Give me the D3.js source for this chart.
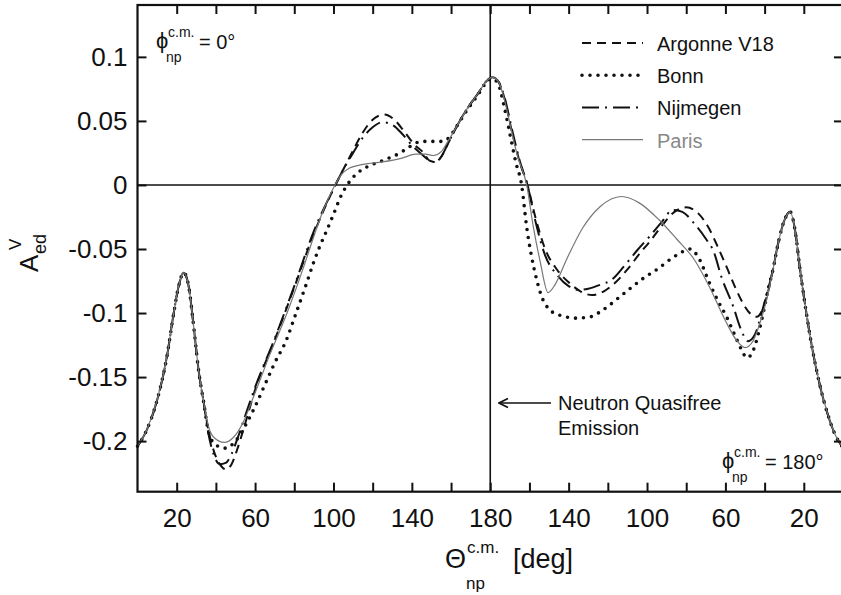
<!DOCTYPE html>
<html>
<head>
<meta charset="utf-8">
<script src="https://cdn.jsdelivr.net/npm/d3@7"></script>
<style>
  body { margin: 0; background: #fff; }
  svg { display: block; }
  text { font-family: "Liberation Sans", Arial, Helvetica, sans-serif; fill: #111; }
</style>
</head>
<body>
<svg width="841" height="595"></svg>
<script>
// x is the unfolded angle: 0..180 is theta at phi=0, 180..360 is (360 - theta) at phi=180
var yTicks = [0.1, 0.05, 0, -0.05, -0.1, -0.15, -0.2];
var xTicks = d3.range(20, 360, 20);
var xLabelTicks = [20, 60, 100, 140, 180, 220, 260, 300, 340];

var sharedLeft = [[0,-0.204],[4.8,-0.191],[10,-0.168],[15,-0.134],[18.5,-0.100],[21,-0.079],[23.6,-0.0685],
  [26.1,-0.079],[28.7,-0.111],[31.2,-0.145],[33.8,-0.170]];
var sharedRight = [[324,-0.068],[327,-0.045],[330,-0.028],[333,-0.021],[335.5,-0.035],[338,-0.065],[341,-0.097],
  [344,-0.125],[348,-0.155],[352,-0.178],[356,-0.195],[360,-0.205]];

var argonne = [[36.3,-0.192],[39,-0.208],[42,-0.218],[45,-0.222],[48,-0.218],[51,-0.206],[55,-0.186],[60,-0.160],
  [70,-0.121],[80,-0.080],[90,-0.038],[101,0],[105,0.012],[110,0.027],[115,0.041],[120,0.051],[126,0.055],
  [131,0.051],[136,0.042],[141,0.032],[146,0.025],[149,0.019],[152,0.018],[155,0.022],[158,0.031],[163,0.046],
  [168,0.059],[174,0.072],[178,0.081],[181,0.084],[184,0.081],[187,0.069],[191,0.042],[195,0.018],[199,0],
  [203,-0.025],[208,-0.05],[214,-0.066],[220,-0.076],[226,-0.083],[232,-0.086],[238,-0.083],[244,-0.076],
  [250,-0.066],[256,-0.054],[262,-0.043],[268,-0.031],[274,-0.021],[280,-0.0175],[286,-0.022],[292,-0.035],
  [296,-0.048],[300.6,-0.064],[305,-0.080],[309,-0.0925],[313,-0.101],[316,-0.103],[319,-0.097],[321.5,-0.085]];

var bonn = [[36.3,-0.193],[40,-0.203],[45,-0.2055],[50,-0.2],[55,-0.188],[60,-0.173],[65,-0.156],[70,-0.139],
  [76,-0.121],[80,-0.104],[86,-0.078],[90,-0.06],[93,-0.048],[97,-0.034],[100,-0.023],[104,-0.008],[107,0],
  [112,0.009],[117,0.014],[125,0.019],[134,0.025],[139,0.03],[145,0.034],[152,0.034],[156,0.034],[159,0.037],
  [163,0.046],[168,0.058],[174,0.071],[178,0.08],[181,0.083],[184,0.079],[187,0.062],[190,0.04],[193,0.018],
  [196,0],[198.6,-0.033],[201.1,-0.056],[203.7,-0.074],[206.2,-0.087],[210,-0.097],[216,-0.102],[224,-0.104],
  [231,-0.103],[238,-0.097],[248,-0.085],[258,-0.073],[265,-0.066],[272,-0.058],[277,-0.053],[282,-0.05],
  [286,-0.056],[292,-0.077],[296,-0.09],[300.6,-0.103],[305,-0.118],[308,-0.128],[311,-0.135],[314,-0.13],
  [317,-0.115],[320,-0.095],[322,-0.08]];

var nijmegen = [[36.3,-0.195],[39,-0.211],[42,-0.218],[45,-0.217],[48,-0.21],[51,-0.198],[55,-0.18],[60,-0.158],
  [70,-0.12],[80,-0.079],[90,-0.036],[101,0],[105,0.012],[110,0.025],[115,0.037],[120,0.045],[125,0.049],
  [130,0.047],[135,0.04],[140,0.031],[145,0.024],[149,0.019],[152,0.018],[155,0.022],[158,0.031],[163,0.046],
  [168,0.059],[174,0.072],[178,0.081],[181,0.084],[184,0.081],[187,0.07],[191,0.044],[195,0.019],[199,0],
  [203,-0.028],[208,-0.055],[214,-0.07],[220,-0.079],[225,-0.082],[230,-0.081],[236,-0.078],[242,-0.074],
  [248,-0.064],[255,-0.051],[262,-0.039],[268,-0.028],[273,-0.0195],[278,-0.021],[284,-0.03],[290,-0.042],
  [294,-0.052],[298,-0.072],[304,-0.095],[308,-0.113],[311.5,-0.122],[315,-0.117],[319,-0.097],[321.5,-0.083]];

var paris = [[36.3,-0.189],[38.9,-0.197],[44.3,-0.201],[49,-0.197],[54,-0.185],[59.3,-0.165],[67.8,-0.1315],
  [76.3,-0.100],[84.8,-0.064],[90,-0.040],[95,-0.019],[100.8,0],[104,0.008],[108,0.013],[115,0.016],[125,0.018],
  [135,0.021],[142,0.024],[147,0.024],[151,0.023],[155,0.026],[158,0.033],[163,0.046],[168,0.059],[174,0.072],
  [178,0.081],[181,0.084],[184,0.081],[187,0.068],[190,0.048],[194,0.022],[198.6,0],[202,-0.033],[205.5,-0.06],
  [209.5,-0.084],[213,-0.078],[219,-0.058],[227,-0.034],[236,-0.017],[247,-0.009],[256,-0.014],[266,-0.027],
  [275,-0.042],[284,-0.058],[292,-0.080],[300,-0.106],[306,-0.122],[310,-0.127],[314,-0.122],[318,-0.106],[321,-0.09]];

var models = [
  {name: "Argonne V18", values: argonne, dash: "9,6", width: 2, color: "#111", cap: "butt"},
  {name: "Bonn", values: bonn, dash: "0,8", width: 3.6, color: "#111", cap: "round"},
  {name: "Nijmegen", values: nijmegen, dash: "17,6,2,6", width: 2, color: "#111", cap: "butt"},
  {name: "Paris", values: paris, dash: null, width: 1.2, color: "#777", cap: "butt"}
];

var svg = d3.select("svg"),
    plotL = 137.5, plotR = 843, plotT = 5, plotB = 491.7;

var x = d3.scaleLinear().domain([0, 360]).range([plotL, plotR]);
var y = d3.scaleLinear().domain([-0.2395, 0.1405]).range([plotB, plotT]);

var line = d3.line()
    .x(function(d) { return x(d[0]); })
    .y(function(d) { return y(d[1]); })
    .curve(d3.curveMonotoneX);

// reference lines
svg.append("line").attr("x1", plotL).attr("x2", plotR).attr("y1", y(0)).attr("y2", y(0))
  .attr("stroke", "#111").attr("stroke-width", 1.6);
svg.append("line").attr("x1", x(180)).attr("x2", x(180)).attr("y1", plotT).attr("y2", plotB)
  .attr("stroke", "#111").attr("stroke-width", 1.6);

// curves
models.forEach(function(m) {
  svg.append("path")
    .datum(sharedLeft.concat(m.values, sharedRight))
    .attr("fill", "none")
    .attr("stroke", m.color)
    .attr("stroke-width", m.width)
    .attr("stroke-dasharray", m.dash)
    .attr("stroke-linecap", m.cap)
    .attr("d", line);
});

// axes with inward ticks
function xFmt(d) {
  if (xLabelTicks.indexOf(d) < 0) return "";
  return d <= 180 ? d : 360 - d;
}
var gx = svg.append("g").attr("transform", "translate(0," + plotB + ")")
  .call(d3.axisBottom(x).tickValues(xTicks).tickSizeInner(-9).tickSizeOuter(0).tickPadding(17).tickFormat(xFmt));
svg.append("g").attr("transform", "translate(0," + plotT + ")")
  .call(d3.axisTop(x).tickValues(xTicks).tickSizeInner(-9).tickSizeOuter(0).tickFormat(""));
var gy = svg.append("g").attr("transform", "translate(" + plotL + ",0)")
  .call(d3.axisLeft(y).tickValues(yTicks).tickSizeInner(-9).tickSizeOuter(0).tickPadding(10)
    .tickFormat(function(d) { return d === 0 ? "0" : String(d); }));
svg.append("g").attr("transform", "translate(" + plotR + ",0)")
  .call(d3.axisRight(y).tickValues(yTicks).tickSizeInner(-9).tickSizeOuter(0).tickFormat(""));

svg.selectAll(".domain").remove();
svg.selectAll(".tick line").attr("stroke", "#111").attr("stroke-width", 2);
gx.selectAll("text").attr("font-size", 26).attr("font-family", "Liberation Sans, Arial, sans-serif").attr("fill", "#111");
gy.selectAll("text").attr("font-size", 26).attr("font-family", "Liberation Sans, Arial, sans-serif").attr("fill", "#111");

svg.append("rect").attr("x", plotL).attr("y", plotT).attr("width", plotR - plotL).attr("height", plotB - plotT)
  .attr("fill", "none").attr("stroke", "#111").attr("stroke-width", 2.2);

// legend
var legend = svg.append("g").attr("transform", "translate(582,43)");
models.forEach(function(m, i) {
  var row = legend.append("g").attr("transform", "translate(0," + (i * 32.2) + ")");
  row.append("line").attr("x1", 0).attr("x2", 61).attr("y1", 0).attr("y2", 0)
    .attr("stroke", m.color).attr("stroke-width", m.width)
    .attr("stroke-dasharray", m.dash).attr("stroke-linecap", m.cap);
  row.append("text").attr("x", 75).attr("y", 8).attr("font-size", 20)
    .style("fill", i === 3 ? "#888" : "#111").text(m.name);
});

// phi annotations
function phiLabel(px, py, value) {
  var g = svg.append("g").attr("transform", "translate(" + px + "," + py + ")");
  g.append("text").attr("x", 0).attr("y", 0).attr("font-size", 22).text("\u03d5");
  g.append("text").attr("x", 12).attr("y", -11).attr("font-size", 14).text("c.m.");
  g.append("text").attr("x", 10).attr("y", 14).attr("font-size", 14).text("np");
  g.append("text").attr("x", 43).attr("y", 1).attr("font-size", 20).text("= " + value);
}
phiLabel(156, 48, "0\u00b0");
phiLabel(722, 468, "180\u00b0");

// quasifree arrow
svg.append("defs").append("marker").attr("id", "arr").attr("viewBox", "0 0 10 10")
  .attr("refX", 9).attr("refY", 5).attr("markerWidth", 7).attr("markerHeight", 7).attr("orient", "auto")
  .append("path").attr("d", "M1,1 L9,5 L1,9").attr("fill", "none").attr("stroke", "#111").attr("stroke-width", 1.5);
svg.append("line").attr("x1", 551).attr("x2", 499).attr("y1", 403).attr("y2", 403)
  .attr("stroke", "#111").attr("stroke-width", 1.6).attr("marker-end", "url(#arr)");
svg.append("text").attr("x", 558).attr("y", 410).attr("font-size", 20).text("Neutron Quasifree");
svg.append("text").attr("x", 558).attr("y", 435).attr("font-size", 20).text("Emission");

// x title
var xt = svg.append("g");
xt.append("text").attr("x", 445).attr("y", 568).attr("font-size", 27).text("\u0398");
xt.append("text").attr("x", 467).attr("y", 553).attr("font-size", 17).text("c.m.");
xt.append("text").attr("x", 466).attr("y", 589).attr("font-size", 17).text("np");
xt.append("text").attr("x", 513).attr("y", 568).attr("font-size", 27).text("[deg]");

// y title
var yt = svg.append("g").attr("transform", "translate(38,272) rotate(-90)");
yt.append("text").attr("x", 0).attr("y", 0).attr("font-size", 26).text("A");
yt.append("text").attr("x", 18).attr("y", 8).attr("font-size", 18).text("ed");
yt.append("text").attr("x", 22).attr("y", -17).attr("font-size", 17).text("V");
</script>
</body>
</html>
